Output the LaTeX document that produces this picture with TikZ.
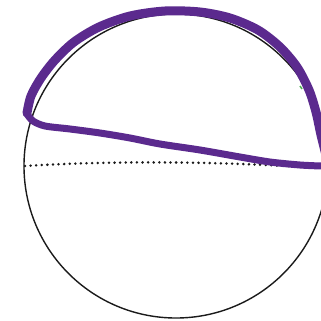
\documentclass[tikz,border=0pt]{standalone}
\usepackage{xcolor}
\definecolor{cInk}{HTML}{1A1A1A}
\definecolor{cPen}{HTML}{5B2A8E}
\definecolor{cSpeck}{HTML}{4CAF50}
\usepackage{tikz}
\tikzset{
  sphere-ring/.style={draw=cInk,line width=1.4pt},
  sphere-equator/.style={draw=cInk,line width=2.8pt,line cap=round,
    dash pattern=on 0pt off 5.6pt},
  pen-stroke/.style={draw=cPen,line width=7pt,line cap=round,line join=round},
}

\begin{document}
\begin{tikzpicture}[x=1pt,y=-1pt]
  \useasboundingbox (0,0) rectangle (321,321);
  \clip (0,0) rectangle (321,321);
  \fill[white] (0,0) rectangle (321,321);
  % sphere outline and dotted equator
  \draw[sphere-ring] (176,166) circle[radius=152];
  \draw[sphere-equator] (25,166) .. controls (120,160) and (230,162) .. (321,168);
  % hand-drawn cap
  \draw[pen-stroke,line width=9pt] plot[smooth] coordinates {
    (27,113) (31,96) (41,78) (55,60) (74,42) (99,27) (130,16)
    (165,11) (200,12) (230,18) (258,30) (280,47) (297,67) (309,90)
    (316,112) (321,135) (326,155)};
  \draw[pen-stroke] plot[smooth] coordinates {
    (27,114) (33,121) (45,126) (70,129) (100,133) (130,138) (160,144)
    (200,150) (240,157) (270,162) (300,165) (321,166)};
  \draw[cSpeck,line width=1.5pt] (300,86) -- (302,89);
\end{tikzpicture}
\end{document}
